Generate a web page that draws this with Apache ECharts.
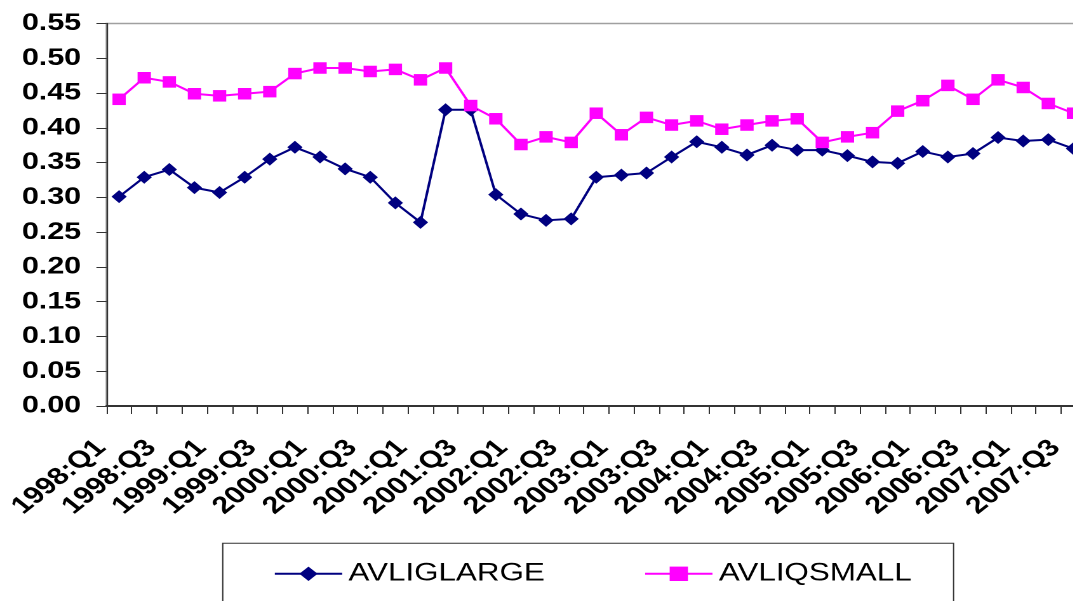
<!DOCTYPE html>
<html>
<head>
<meta charset="utf-8">
<script src="https://cdn.jsdelivr.net/npm/echarts@6/dist/echarts.min.js"></script>
<style>
  html, body { margin: 0; padding: 0; background: #fff; overflow: hidden; width: 1073px; height: 601px; }
  /* the chart is laid out narrow and widened, which gives the broad lettering */
  #chart { width: 880px; height: 601px; transform: scaleX(1.27); transform-origin: 0 0; }
</style>
</head>
<body>
<div id="chart"></div>
<script>
const quarters = [
  '1998:Q1','1998:Q2','1998:Q3','1998:Q4',
  '1999:Q1','1999:Q2','1999:Q3','1999:Q4',
  '2000:Q1','2000:Q2','2000:Q3','2000:Q4',
  '2001:Q1','2001:Q2','2001:Q3','2001:Q4',
  '2002:Q1','2002:Q2','2002:Q3','2002:Q4',
  '2003:Q1','2003:Q2','2003:Q3','2003:Q4',
  '2004:Q1','2004:Q2','2004:Q3','2004:Q4',
  '2005:Q1','2005:Q2','2005:Q3','2005:Q4',
  '2006:Q1','2006:Q2','2006:Q3','2006:Q4',
  '2007:Q1','2007:Q2','2007:Q3'
];

const avligLarge = [
  0.301, 0.329, 0.340, 0.314, 0.307, 0.329, 0.355, 0.372,
  0.358, 0.341, 0.329, 0.292, 0.264, 0.426, 0.426, 0.304,
  0.276, 0.267, 0.269, 0.329, 0.332, 0.335, 0.358, 0.380,
  0.372, 0.361, 0.375, 0.368, 0.368, 0.360, 0.351, 0.349,
  0.366, 0.358, 0.363, 0.386, 0.381, 0.383, 0.370
];

const avliqSmall = [
  0.441, 0.472, 0.466, 0.449, 0.446, 0.449, 0.452, 0.478,
  0.486, 0.486, 0.481, 0.484, 0.469, 0.486, 0.432, 0.413,
  0.376, 0.387, 0.379, 0.421, 0.390, 0.415, 0.404, 0.410,
  0.398, 0.404, 0.410, 0.413, 0.379, 0.387, 0.393, 0.424,
  0.439, 0.461, 0.441, 0.469, 0.458, 0.435, 0.421
];

const seriesNames = ['AVLIGLARGE', 'AVLIQSMALL'];

const chart = echarts.init(document.getElementById('chart'), null, { devicePixelRatio: 2 });

chart.setOption({
  animation: false,
  backgroundColor: '#fff',
  textStyle: { fontFamily: 'Liberation Sans, Arial, sans-serif' },
  grid: {
    left: 83.9, right: 24.9, top: 23.5, bottom: 195,
    show: true, borderColor: '#a0a0a0', borderWidth: 1.5, backgroundColor: 'transparent'
  },
  legend: {
    data: seriesNames,
    left: 175.4, top: 543.3,
    orient: 'horizontal',
    padding: [18, 33, 60, 40],
    itemGap: 78,
    itemWidth: 53, itemHeight: 18,
    borderColor: '#333', borderWidth: 1,
    textStyle: { fontSize: 24.7, color: '#000', fontFamily: 'Liberation Sans, Arial, sans-serif' }
  },
  xAxis: {
    type: 'category',
    data: quarters,
    boundaryGap: true,
    axisLine: { lineStyle: { color: '#333', width: 2 } },
    axisTick: { show: true, interval: 0, length: 8, lineStyle: { color: '#333', width: 1 } },
    axisLabel: {
      interval: 1, rotate: 45, margin: 24,
      padding: [0, 20, 0, 0],
      fontSize: 24, fontWeight: 'bold', color: '#000',
      fontFamily: 'Liberation Sans, Arial, sans-serif'
    },
    splitLine: { show: false }
  },
  yAxis: {
    type: 'value',
    min: 0, max: 0.55, interval: 0.05,
    axisLine: { show: true, lineStyle: { color: '#333', width: 1.2 } },
    axisTick: { show: true, length: 8, lineStyle: { color: '#333', width: 1 } },
    axisLabel: {
      margin: 20, fontSize: 24, fontWeight: 'bold', color: '#000',
      fontFamily: 'Liberation Sans, Arial, sans-serif',
      formatter: v => v.toFixed(2)
    },
    splitLine: { show: false }
  },
  series: [
    {
      name: seriesNames[0],
      type: 'line',
      data: avligLarge,
      color: '#000080',
      symbol: 'diamond',
      symbolSize: [12, 13],
      lineStyle: { color: '#000080', width: 2 },
      itemStyle: { color: '#000080' }
    },
    {
      name: seriesNames[1],
      type: 'line',
      data: avliqSmall,
      color: '#ff00ff',
      symbol: 'rect',
      symbolSize: [10.5, 11.5],
      lineStyle: { color: '#ff00ff', width: 2 },
      itemStyle: { color: '#ff00ff' }
    }
  ]
});
</script>
</body>
</html>
